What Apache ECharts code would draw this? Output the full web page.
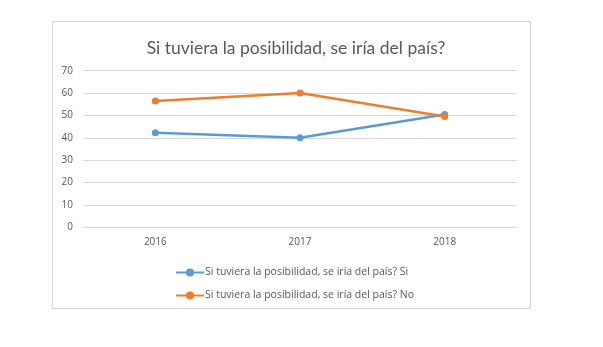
<!DOCTYPE html>
<html><head><meta charset="utf-8">
<script src="https://cdn.jsdelivr.net/npm/echarts@6/dist/echarts.min.js"></script>
<style>html,body{margin:0;padding:0;background:#fff}#frame{position:absolute;left:52px;top:21px;width:479px;height:288px;border:1px solid #d9d9d9;box-sizing:border-box}#c{position:absolute;left:0;top:0;width:603px;height:347px}</style>
</head><body><div id="frame"></div><div id="c"></div>
<script>
const categories = ['2016', '2017', '2018'];
const seriesNames = ['Si tuviera la posibilidad, se iría del país? Si', 'Si tuviera la posibilidad, se iría del país? No'];
const siValues = [42.3, 40.0, 50.4];
const noValues = [56.5, 60.0, 49.5];
const chart = echarts.init(document.getElementById('c'));
const font = '"Open Sans", "Liberation Sans", sans-serif';
chart.setOption({
  animation: false,
  title: {text: 'Si tuviera la posibilidad, se iría del país?', left: 291, textAlign: 'center', top: 34,
    textStyle: {fontFamily: 'Lato, sans-serif', fontSize: 17.5, fontWeight: 'normal', color: '#595959'}},
  legend: {orient: 'vertical', left: 170, top: 262, itemGap: 12, itemWidth: 28, itemHeight: 10,
    textStyle: {fontFamily: font, fontSize: 10.5, color: '#595959', padding: [0,0,0,-4]},
    data: seriesNames},
  grid: {left: 83, right: 86, top: 70.7, bottom: 347-227.3, containLabel: false},
  xAxis: {type: 'category', data: categories, boundaryGap: true,
    axisLine: {show: true, lineStyle: {color: '#d9d9d9'}}, axisTick: {show: false},
    axisLabel: {fontFamily: font, fontSize: 10, color: '#595959', margin: 10}},
  yAxis: {type: 'value', min: 0, max: 70, interval: 10,
    axisLine: {show: false}, axisTick: {show: false},
    splitLine: {lineStyle: {color: '#d9d9d9', width: 1}},
    axisLabel: {fontFamily: font, fontSize: 10, color: '#595959', margin: 10}},
  series: [
    {name: seriesNames[0], type: 'line', data: siValues, symbol: 'circle', symbolSize: 7,
      itemStyle: {color: '#5B9BD5'}, lineStyle: {width: 2.5, color: '#5B9BD5'}},
    {name: seriesNames[1], type: 'line', data: noValues, symbol: 'circle', symbolSize: 7,
      itemStyle: {color: '#ED7D31'}, lineStyle: {width: 2.5, color: '#ED7D31'}}
  ]
});
</script></body></html>
